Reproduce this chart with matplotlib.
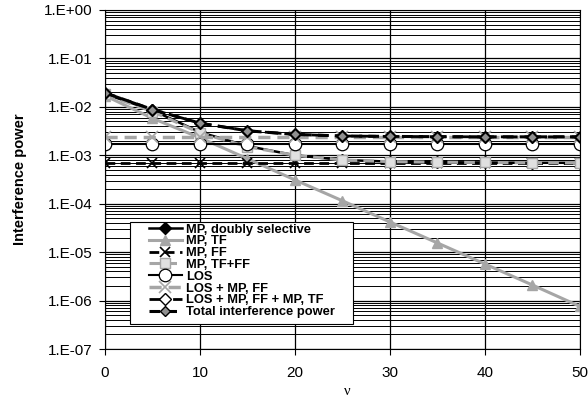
import numpy as np
import matplotlib.pyplot as plt
from matplotlib.patches import Rectangle
from matplotlib.ticker import FixedLocator, FuncFormatter, LogLocator, NullFormatter

plt.rcParams['font.family'] = ['Liberation Sans', 'DejaVu Sans']

nu = [0, 5, 10, 15, 20, 25, 30, 35, 40, 45, 50]

mp_doubly = [1.85e-2, 8.5e-3, 3.0e-3, 1.55e-3, 1.0e-3, 8.0e-4, 7.4e-4, 7.2e-4, 7.1e-4, 7.0e-4, 7.0e-4]
mp_tf = [1.7e-2, 5.8e-3, 2.3e-3, 8.5e-4, 3.1e-4, 1.15e-4, 4.2e-5, 1.55e-5, 5.7e-6, 2.1e-6, 7.6e-7]
mp_ff = [7.0e-4] * 11
mp_tf_ff = [1.8e-2, 8.0e-3, 2.9e-3, 1.5e-3, 1.0e-3, 8.0e-4, 7.4e-4, 7.2e-4, 7.1e-4, 7.0e-4, 7.0e-4]
los = [1.7e-3] * 11
los_mp_ff = [2.4e-3] * 11
los_ff_tf = [1.95e-2, 8.8e-3, 4.6e-3, 3.2e-3, 2.7e-3, 2.5e-3, 2.45e-3, 2.42e-3, 2.4e-3, 2.4e-3, 2.4e-3]
total = [1.95e-2, 8.8e-3, 4.6e-3, 3.2e-3, 2.7e-3, 2.5e-3, 2.45e-3, 2.42e-3, 2.4e-3, 2.4e-3, 2.4e-3]

gray = '#a6a6a6'
dash = (0, (3.5, 2))

fig = plt.figure(figsize=(5.88, 3.99), dpi=100)
ax = fig.add_axes([0.1786, 0.1253, 0.8074, 0.8497])

ax.plot(nu, mp_doubly, color='black', lw=1.8, marker='D', ms=6, mfc='black', mec='black',
        label='MP, doubly selective')
ax.plot(nu, mp_tf, color=gray, lw=2.2, marker='^', ms=7, mfc=gray, mec=gray, label='MP, TF')
ax.plot(nu, mp_ff, color='black', lw=2, ls=dash, marker='x', ms=7, mec='black', mew=1.2,
        label='MP, FF')
ax.plot(nu, mp_tf_ff, color=gray, lw=2.2, ls=dash, marker='s', ms=7, mfc='#e0e0e0', mec=gray,
        label='MP, TF+FF')
ax.plot(nu, los, color='black', lw=1.5, marker='o', ms=9, mfc='white', mec='black', mew=0.9,
        label='LOS')
ax.plot(nu, los_mp_ff, color=gray, lw=2.5, ls=dash, marker='x', ms=8, mec=gray, mew=1.2,
        label='LOS + MP, FF')
ax.plot(nu, los_ff_tf, color='black', lw=2, ls=(0, (6, 2.5)), marker='D', ms=6, mfc='white',
        mec='black', label='LOS + MP, FF + MP, TF')
ax.plot(nu, total, color='black', lw=2.2, ls=dash, marker='D', ms=5, mfc='#909090', mec='black',
        label='Total interference power')

ax.set_yscale('log')
ax.set_ylim(1e-7, 1)
ax.set_xlim(0, 50)
ax.xaxis.set_major_locator(FixedLocator([0, 10, 20, 30, 40, 50]))
ax.yaxis.set_major_locator(LogLocator(base=10, numticks=10))
ax.yaxis.set_minor_locator(LogLocator(base=10, subs=np.arange(2, 10), numticks=20))
ax.yaxis.set_minor_formatter(NullFormatter())
ax.yaxis.set_major_formatter(FuncFormatter(lambda v, p: f'1.E{int(round(np.log10(v))):+03d}'))

ax.grid(True, which='major', axis='both', color='black', lw=0.9)
ax.grid(True, which='minor', axis='y', color='black', lw=0.7)
ax.tick_params(axis='both', which='major', direction='out', length=4, labelsize=11, width=0.8)
ax.tick_params(axis='x', which='major', pad=8)
ax.tick_params(axis='y', which='major', pad=5)
ax.tick_params(axis='y', which='minor', length=0)
for s in ax.spines.values():
    s.set_color('black')
    s.set_linewidth(0.8)
ax.set_axisbelow(True)

ax.set_ylabel('Interference power', fontsize=10.5, fontweight='bold')
ax.yaxis.set_label_coords(-0.165, 0.5)
ax.set_xlabel('ν', fontsize=10.5, family='Liberation Serif')
ax.xaxis.set_label_coords(0.51, -0.105)

# legend frame drawn separately so the side padding can match
ax.add_patch(Rectangle((0.0526, 0.0737), 0.4695, 0.301, transform=ax.transAxes,
                       facecolor='white', edgecolor='black', lw=0.8, zorder=4.5))
leg = ax.legend(loc='upper left', bbox_to_anchor=(0.092, 0.37),
                prop={'weight': 'bold', 'size': 9.3}, handlelength=2.6, labelspacing=-0.02,
                handletextpad=0.3, borderpad=0, borderaxespad=0, frameon=False)

fig.savefig('out.png', dpi=100)
